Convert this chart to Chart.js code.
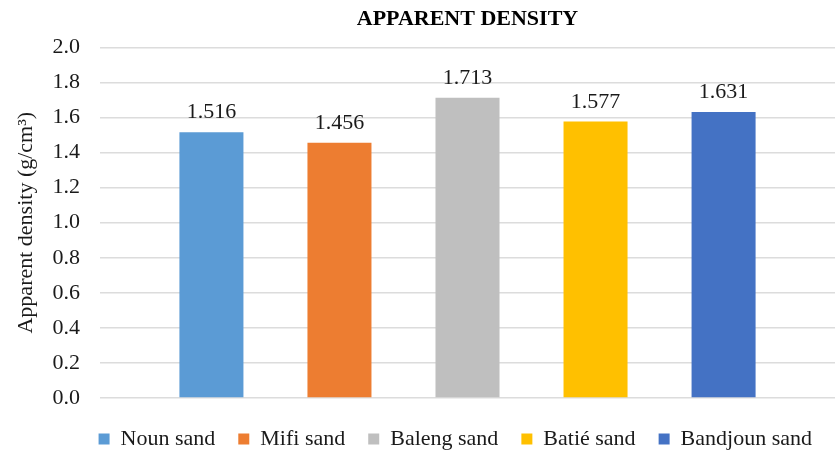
<!DOCTYPE html>
<html>
<head>
<meta charset="utf-8">
<script src="https://cdn.jsdelivr.net/npm/chart.js@4.4.1/dist/chart.umd.min.js"></script>
<style>
  html, body { margin: 0; padding: 0; background: #fff; }
  #wrap { width: 835px; height: 452px; }
</style>
</head>
<body>
<div id="wrap"><canvas id="densityChart"></canvas></div>
<script>
// valores
const sandNames = ['Noun sand', 'Mifi sand', 'Baleng sand', 'Batié sand', 'Bandjoun sand'];
const densityValues = [1.516, 1.456, 1.713, 1.577, 1.631];
const barColors = ['#5B9BD5', '#ED7D31', '#BFBFBF', '#FFC000', '#4472C4'];
const yTicks = [0, 0.2, 0.4, 0.6, 0.8, 1.0, 1.2, 1.4, 1.6, 1.8, 2.0];

const serif = "'Liberation Serif', 'Times New Roman', serif";
Chart.defaults.font.family = serif;
Chart.defaults.font.size = 22;
Chart.defaults.color = '#1a1a1a';

// etiquetas de valor encima de cada barra
const valueLabels = {
  id: 'valueLabels',
  afterDatasetsDraw(chart) {
    const ctx = chart.ctx;
    ctx.save();
    ctx.font = '22px ' + serif;
    ctx.fillStyle = '#1a1a1a';
    ctx.textAlign = 'center';
    ctx.textBaseline = 'alphabetic';
    chart.data.datasets.forEach((ds, i) => {
      chart.getDatasetMeta(i).data.forEach((bar, j) => {
        ctx.fillText(ds.data[j].toFixed(3), bar.x, bar.y - 14);
      });
    });
    ctx.restore();
  }
};

const datasets = sandNames.map((name, i) => ({
  label: name,
  data: [densityValues[i]],
  backgroundColor: barColors[i],
  borderWidth: 0,
  categoryPercentage: 0.871,
  barPercentage: 0.5
}));

new Chart(document.getElementById('densityChart'), {
  type: 'bar',
  data: {
    labels: ['Apparent density'],
    datasets: datasets
  },
  options: {
    responsive: true,
    maintainAspectRatio: false,
    animation: false,
    layout: { padding: { top: 0, left: 0, right: 0, bottom: -8 } },
    plugins: {
      title: {
        display: true,
        fullSize: false,
        text: 'APPARENT DENSITY',
        color: '#000',
        font: { family: serif, size: 22, weight: 'bold' },
        padding: { top: 6, bottom: 15 }
      },
      legend: {
        position: 'bottom',
        align: 'end',
        labels: {
          color: '#1a1a1a',
          font: { family: serif, size: 22 },
          boxWidth: 11,
          boxHeight: 11,
          padding: 23
        }
      },
      tooltip: { enabled: false }
    },
    scales: {
      x: {
        display: true,
        afterFit(scale) { scale.height = 7; },
        grid: { display: false },
        border: { display: false },
        ticks: { display: false }
      },
      y: {
        min: 0,
        max: 2,
        afterFit(scale) { scale.width = 100; },
        afterBuildTicks(scale) { scale.ticks = yTicks.map(v => ({ value: v })); },
        border: { display: false },
        grid: { color: '#DCDCDC', lineWidth: 1.5, drawTicks: false },
        ticks: {
          padding: 20,
          color: '#1a1a1a',
          font: { family: serif, size: 22 },
          callback: v => v.toFixed(1)
        },
        title: {
          display: true,
          text: 'Apparent density (g/cm³)',
          color: '#1a1a1a',
          font: { family: serif, size: 22 },
          padding: { top: 13, bottom: 0 }
        }
      }
    }
  },
  plugins: [valueLabels]
});
</script>
</body>
</html>
